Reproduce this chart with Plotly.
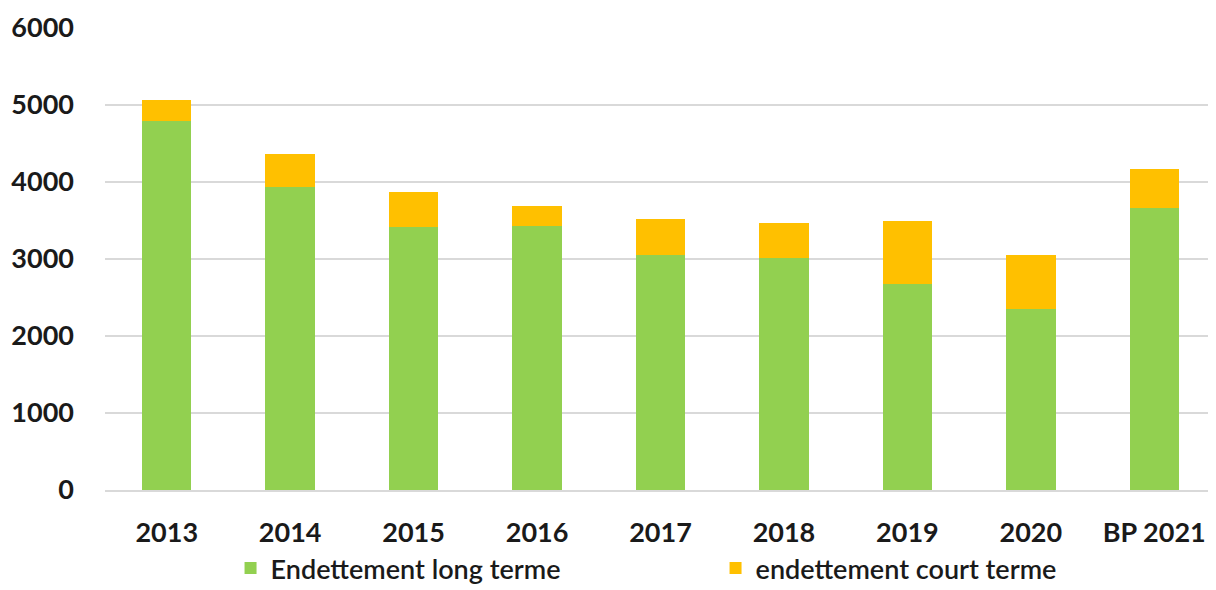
import plotly.graph_objects as go

CATEGORIES = ["2013", "2014", "2015", "2016", "2017", "2018", "2019", "2020", "BP 2021"]
LONG_TERME = [4790, 3935, 3415, 3430, 3050, 3010, 2675, 2350, 3660]
TOTAL = [5065, 4365, 3870, 3690, 3520, 3470, 3490, 3050, 4165]
COURT_TERME = [t - l for t, l in zip(TOTAL, LONG_TERME)]

GREEN = "#92D050"
ORANGE = "#FFC000"
FONT = "Lato"

fig = go.Figure()
fig.add_bar(x=CATEGORIES, y=LONG_TERME, name="Endettement long terme", marker_color=GREEN, marker_line_width=0)
fig.add_bar(x=CATEGORIES, y=COURT_TERME, name="endettement court terme", marker_color=ORANGE, marker_line_width=0)

# page body adds an 8px margin, so the figure is kept a little smaller than the window
fig.update_layout(
    barmode="stack",
    bargap=0.6,
    width=1208,
    height=582,
    margin=dict(l=97, r=0, t=20, b=100, autoexpand=False),
    plot_bgcolor="#FFFFFF",
    paper_bgcolor="#FFFFFF",
    font=dict(family=FONT, color="#1a1a1a"),
    showlegend=True,
    legend=dict(
        orientation="h",
        xanchor="left",
        x=0.113,
        yanchor="middle",
        y=-0.17,
        font=dict(size=27, family=FONT, color="#1a1a1a", weight=600),
        traceorder="normal",
        itemwidth=30,
        entrywidth=440,
    ),
)
fig.update_yaxes(
    range=[0, 6000],
    dtick=1000,
    showgrid=True,
    gridcolor="#D9D9D9",
    gridwidth=2,
    zeroline=False,
    showline=False,
    tickfont=dict(size=27, family=FONT, color="#1a1a1a", weight="bold"),
    ticklabelstandoff=30,
)
fig.update_xaxes(
    showgrid=False,
    showline=True,
    linecolor="#D9D9D9",
    linewidth=2,
    ticks="",
    tickfont=dict(size=27, family=FONT, color="#1a1a1a", weight="bold"),
    ticklabelstandoff=18,
)

fig.write_html("out.html")
